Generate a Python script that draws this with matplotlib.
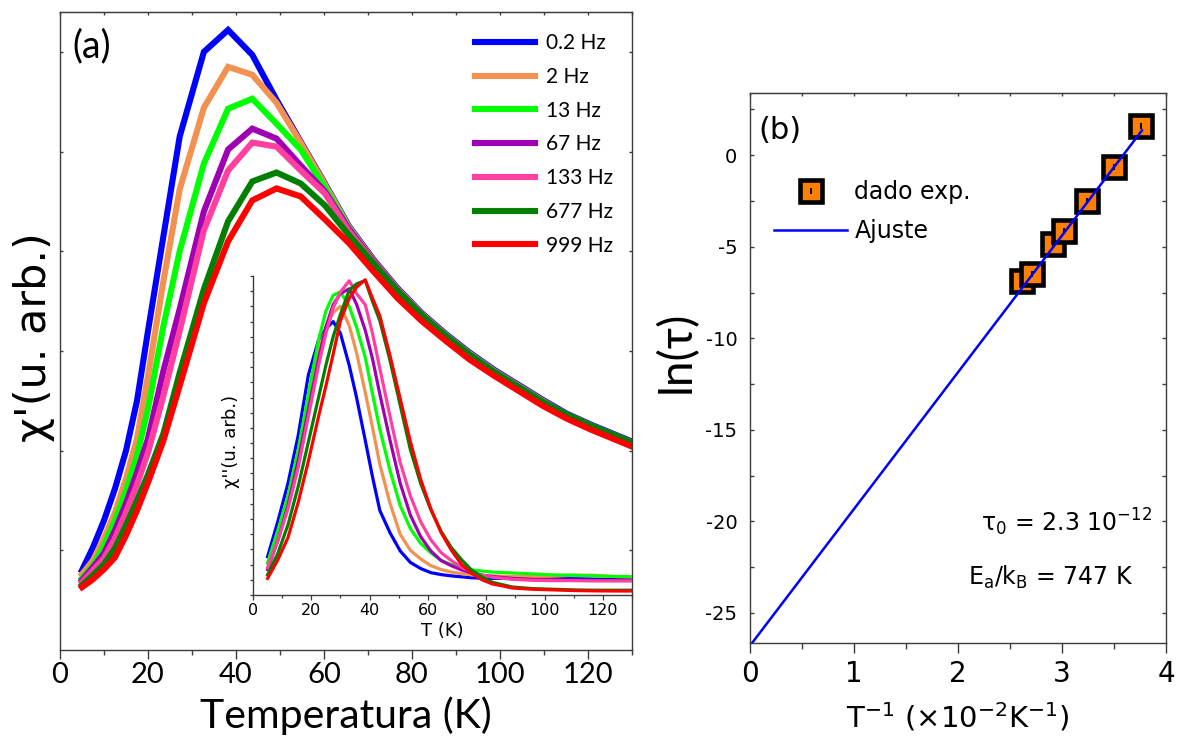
import numpy as np
import matplotlib
matplotlib.use('Agg')
import matplotlib.pyplot as plt
from matplotlib.ticker import MultipleLocator

plt.rcParams['axes.unicode_minus'] = False
plt.rcParams['mathtext.default'] = 'regular'
plt.rcParams['font.family'] = ['Lato', 'DejaVu Sans']

# ---------------- data: panel (a), chi' ----------------
freq_labels = ['0.2 Hz', '2 Hz', '13 Hz', '67 Hz', '133 Hz', '677 Hz', '999 Hz']
colors = ['#0000FF', '#F39150', '#00FF00', '#A000B4', '#FF40A0', '#007F00', '#FF0000']

T_main = [5, 7.5, 10, 12.5, 15, 17.5, 20, 23.5, 27.2, 32.7, 38.2, 43.7, 49.2, 54.7,
          60.2, 65.7, 71.2, 76.7, 82.2, 87.7, 93.2, 98.7, 104.2, 109.7, 115.2, 120.7, 126.2, 131.7]

chi1_02 = [0.80, 1.03, 1.30, 1.62, 2.00, 2.50, 3.20, 4.15, 5.15, 6.00, 6.22, 5.97, 5.52, 5.10,
           4.68, 4.25, 3.92, 3.63, 3.38, 3.17, 2.98, 2.81, 2.66, 2.51, 2.37, 2.26, 2.16, 2.06]
chi1_2 = [0.76, 0.90, 1.12, 1.38, 1.72, 2.12, 2.75, 3.70, 4.62, 5.44, 5.85, 5.77, 5.49, 5.09,
          4.67, 4.24, 3.91, 3.62, 3.37, 3.16, 2.97, 2.80, 2.65, 2.50, 2.36, 2.25, 2.15, 2.05]
chi1_13 = [0.72, 0.85, 1.05, 1.30, 1.60, 1.95, 2.42, 3.25, 4.00, 4.88, 5.43, 5.53, 5.28, 5.02,
           4.64, 4.23, 3.90, 3.61, 3.36, 3.15, 2.96, 2.79, 2.64, 2.49, 2.36, 2.25, 2.15, 2.05]
chi1_67 = [0.70, 0.83, 0.97, 1.20, 1.47, 1.78, 2.12, 2.80, 3.42, 4.40, 5.02, 5.23, 5.13, 4.86,
           4.60, 4.22, 3.90, 3.61, 3.36, 3.15, 2.96, 2.79, 2.64, 2.49, 2.36, 2.25, 2.15, 2.05]
chi1_133 = [0.68, 0.80, 0.92, 1.12, 1.38, 1.66, 1.98, 2.55, 3.20, 4.21, 4.81, 5.09, 5.05, 4.81,
            4.58, 4.20, 3.89, 3.60, 3.36, 3.15, 2.96, 2.79, 2.64, 2.49, 2.36, 2.25, 2.15, 2.05]
chi1_677 = [0.65, 0.75, 0.86, 1.02, 1.25, 1.50, 1.76, 2.17, 2.78, 3.62, 4.30, 4.70, 4.79, 4.68,
            4.46, 4.16, 3.88, 3.60, 3.36, 3.15, 2.96, 2.79, 2.64, 2.49, 2.36, 2.25, 2.15, 2.05]
chi1_999 = [0.63, 0.71, 0.81, 0.93, 1.15, 1.40, 1.68, 2.10, 2.65, 3.48, 4.10, 4.51, 4.63, 4.55,
            4.32, 4.08, 3.80, 3.53, 3.30, 3.10, 2.91, 2.75, 2.60, 2.45, 2.32, 2.21, 2.11, 2.01]

# ---------------- data: inset, chi'' ----------------
T_in = [5, 8.5, 12, 15.5, 19, 22.5, 25, 27.5, 30, 33, 35.5, 38.5, 41, 43.5, 47, 50.5, 54, 57.5,
        61, 64.5, 68, 71.5, 75, 78.5, 82, 89, 96, 103, 110, 117, 124, 131]

chi2_02 = [12, 23, 35, 50, 69, 80, 83.5, 85.7, 82, 72, 62, 48.5, 37, 26.5, 19.5, 13.8, 10.2, 8.3,
           7, 6.4, 6, 5.7, 5.4, 5.3, 5.2, 5.2, 5.2, 5.2, 5.1, 5.0, 4.9, 4.9]
chi2_2 = [10, 20, 31, 45, 62, 76, 84, 88.5, 90.5, 84.5, 76, 63.5, 52.5, 41, 28.7, 19, 14, 11.3,
          9.2, 8, 7.2, 6.7, 6.3, 6.1, 6.0, 5.8, 5.8, 5.9, 6.2, 6.2, 5.8, 5.6]
chi2_13 = [10, 20, 31, 45.5, 63, 80, 89, 94, 95, 90.5, 84, 74.5, 63, 52, 39, 28, 20.8, 16.2,
           13.2, 10.9, 9.5, 8.5, 7.9, 7.5, 7.2, 6.9, 6.6, 6.3, 6.2, 6.0, 5.8, 5.7]
chi2_67 = [8, 17, 28, 42, 58, 74, 84, 91, 94.5, 96, 91.2, 83, 74, 63, 48.5, 35, 25, 18.3,
           13.8, 10.8, 9.2, 7.9, 6.9, 6.2, 5.8, 5.2, 4.9, 4.8, 4.7, 4.6, 4.6, 4.6]
chi2_133 = [8.5, 17, 27, 40, 56, 72, 82, 90, 95, 98.5, 94.5, 91, 82, 71, 56, 41.5, 31, 23,
            17.3, 13.3, 10.8, 8.7, 7.2, 6.3, 5.6, 4.9, 4.6, 4.5, 4.5, 4.4, 4.4, 4.4]
chi2_677 = [6.3, 13, 22, 34, 48, 62, 72, 81, 88, 95.5, 97.5, 98.6, 92, 86, 73.5, 59.5, 45.5, 35,
            26.7, 20, 14.9, 11.1, 7.8, 5.7, 4.0, 2.5, 2.0, 1.8, 1.6, 1.5, 1.5, 1.5]
chi2_999 = [5.2, 11, 18, 29, 42, 56, 65.5, 75.5, 86, 93, 96.5, 98.8, 93, 87.5, 75, 61.5, 48, 36.3,
            27, 19.6, 14.1, 9.6, 6.8, 4.8, 3.5, 2.2, 1.8, 1.6, 1.4, 1.3, 1.25, 1.25]

# ---------------- data: panel (b) ----------------
inv_T = [2.62, 2.71, 2.91, 3.02, 3.24, 3.50, 3.76]
ln_tau = [-6.85, -6.50, -4.84, -4.13, -2.51, -0.67, 1.61]
tau0 = 2.3e-12
Ea_kB = 747.0
fit_x = [0.0, 3.77]

W, H = 1177, 742
fig = plt.figure(figsize=(W / 100, H / 100), dpi=100)


def rect(x0, y0, x1, y1):
    return [x0 / W, 1 - y1 / H, (x1 - x0) / W, (y1 - y0) / H]


spine_c = '#3c3c3c'
LATO = ['Lato', 'DejaVu Sans']
DV = ['DejaVu Sans']

# ================= panel (a) =================
ax = fig.add_axes(rect(60, 12, 632, 650))
main_series = [chi1_02, chi1_2, chi1_13, chi1_67, chi1_133, chi1_677, chi1_999]
for lab, ys, c in zip(freq_labels, main_series, colors):
    ax.plot(T_main, ys, color=c, lw=4.4, label=lab, solid_joinstyle='miter')
ax.set_xlim(0, 130)
ax.set_ylim(0, 6.4)
ax.set_xticks(np.arange(0, 121, 20))
ax.xaxis.set_minor_locator(MultipleLocator(10))
ax.set_yticks([1, 2, 3, 4, 5, 6])
ax.tick_params(axis='x', which='major', direction='out', length=6.5, width=1.0,
               color=spine_c, pad=2, labelsize=21)
ax.tick_params(axis='x', which='minor', direction='out', length=3.8, width=1.0, color=spine_c)
ax.tick_params(axis='y', which='major', direction='in', length=2.5, width=1.0, color=spine_c,
               left=True, right=True, labelleft=False)
for s in ax.spines.values():
    s.set_color(spine_c)
    s.set_linewidth(1.0)
sec = ax.secondary_xaxis('top')
sec.set_xticks(np.arange(0, 131, 10))
sec.tick_params(axis='x', direction='in', length=2.5, width=1.0, color=spine_c, labeltop=False)
sec.spines['top'].set_color(spine_c)

ax.set_xlabel('Temperatura (K)', fontsize=29.5, family=LATO)
ax.xaxis.set_label_coords(0.5, -0.072)
ax.set_ylabel("χ'(u. arb.)", fontsize=31, family=DV)
ax.yaxis.set_label_coords(-0.008, 0.49)
ax.text(0.056, 0.947, '(a)', transform=ax.transAxes, fontsize=27, family=LATO,
        ha='center', va='center')

leg = ax.legend(loc='upper left', bbox_to_anchor=(0.725, 0.967), frameon=False,
                prop={'family': LATO, 'size': 15}, handlelength=2.9, handletextpad=0.53,
                labelspacing=0.66, borderpad=0, borderaxespad=0)
for line in leg.get_lines():
    line.set_linewidth(4.4)

# ================= inset =================
axin = fig.add_axes(rect(253, 276, 632, 595))
axin.patch.set_alpha(0)
inset_series = [chi2_02, chi2_2, chi2_13, chi2_67, chi2_133, chi2_677, chi2_999]
for ys, c in zip(inset_series, colors):
    axin.plot(T_in, ys, color=c, lw=2.3)
axin.set_xlim(0, 130)
axin.set_ylim(0, 100)
axin.spines['top'].set_visible(False)
axin.spines['right'].set_visible(False)
for s in ('left', 'bottom'):
    axin.spines[s].set_color(spine_c)
    axin.spines[s].set_linewidth(1.0)
axin.set_xticks(np.arange(0, 121, 20))
axin.xaxis.set_minor_locator(MultipleLocator(10))
axin.yaxis.set_major_locator(MultipleLocator(100 / 21))
axin.tick_params(axis='x', which='major', direction='out', length=3.6, width=0.9,
                 color=spine_c, pad=2, labelsize=11.5)
axin.tick_params(axis='x', which='minor', direction='out', length=2.2, width=0.9, color=spine_c)
axin.tick_params(axis='y', which='major', direction='out', length=2.2, width=0.9,
                 color=spine_c, labelleft=False)
for lbl in axin.get_xticklabels():
    lbl.set_family(DV)
axin.set_xlabel('T (K)', fontsize=13, family=DV)
axin.xaxis.set_label_coords(0.5, -0.085)
axin.set_ylabel("χ''(u. arb.)", fontsize=13, family=DV)
axin.yaxis.set_label_coords(-0.033, 0.48)

# ================= panel (b) =================
bx = fig.add_axes(rect(750, 93, 1166, 643))
sq, = bx.plot(inv_T, ln_tau, ls='none', marker='s', ms=16, mfc='#FF8000', mec='black',
              mew=3.3, zorder=3)
dot, = bx.plot(inv_T, ln_tau, ls='none', marker='|', ms=4, mec='black', mew=1.5, zorder=3.5)
fx_arr = np.array(fit_x)
fit_line, = bx.plot(fx_arr, np.log(tau0) + Ea_kB * fx_arr * 1e-2, color='#0000FF', lw=1.8,
                    zorder=4)
bx.set_xlim(0, 4)
bx.set_ylim(-26.65, 3.4)
bx.set_xticks([0, 1, 2, 3, 4])
bx.xaxis.set_minor_locator(MultipleLocator(0.5))
bx.set_yticks([-25, -20, -15, -10, -5, 0])
bx.yaxis.set_minor_locator(MultipleLocator(2.5))
bx.tick_params(axis='x', which='major', direction='out', length=7, width=1.0, color=spine_c,
               pad=5, labelsize=20)
bx.tick_params(axis='x', which='minor', direction='out', length=4, width=1.0, color=spine_c)
bx.tick_params(axis='y', which='both', direction='in', length=3, width=1.0, color=spine_c,
               left=True, right=True, pad=9, labelsize=14)
for lbl in bx.get_xticklabels() + bx.get_yticklabels():
    lbl.set_family(DV)
for s in bx.spines.values():
    s.set_color(spine_c)
    s.set_linewidth(1.0)
secb = bx.secondary_xaxis('top')
secb.set_xticks(np.arange(0, 4.01, 0.5))
secb.tick_params(axis='x', direction='in', length=2.5, width=1.0, color=spine_c, labeltop=False)
secb.spines['top'].set_color(spine_c)

bx.set_xlabel(r'T$^{-1}$ ($\times$10$^{-2}$K$^{-1}$)', fontsize=21, family=DV)
bx.xaxis.set_label_coords(0.5, -0.105)
bx.set_ylabel('ln(τ)', fontsize=33, family=LATO)
bx.yaxis.set_label_coords(-0.125, 0.53)
bx.text(0.072, 0.931, '(b)', transform=bx.transAxes, fontsize=22, family=DV,
        ha='center', va='center')
bx.text(0.966, 0.22, 'τ$_0$ = 2.3 10$^{-12}$', transform=bx.transAxes, fontsize=17,
        family=DV, ha='right', va='center')
bx.text(0.921, 0.12, 'E$_a$/k$_B$ = 747 K', transform=bx.transAxes, fontsize=17,
        family=DV, ha='right', va='center')
bx.legend([(sq, dot), fit_line], ['dado exp.', 'Ajuste'], loc='upper left',
          bbox_to_anchor=(0.058, 0.841), frameon=False, prop={'family': DV, 'size': 17},
          handlelength=3.1, handletextpad=0.3, labelspacing=0.63, borderpad=0,
          borderaxespad=0, numpoints=1)

fig.savefig('out.png', dpi=100)
